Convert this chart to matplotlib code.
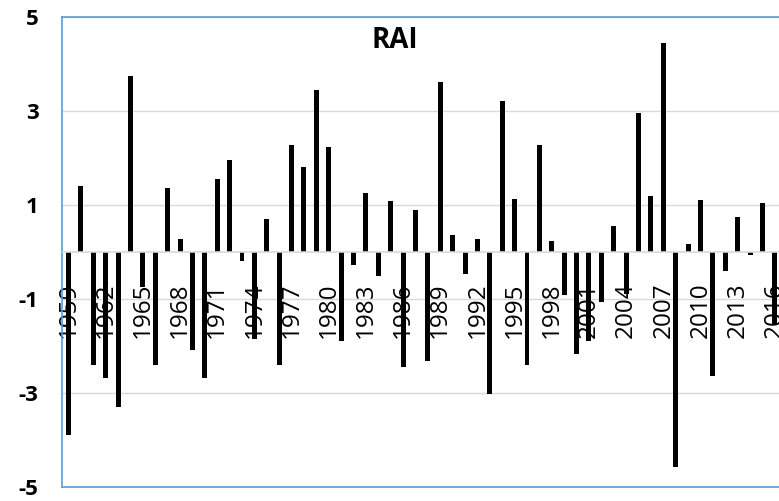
import matplotlib
matplotlib.use("Agg")
import matplotlib.pyplot as plt

years = list(range(1959, 2017))
rai = [-3.90, 1.40, -2.41, -2.68, -3.30, 3.74, -0.75, -2.41, 1.35, 0.26,
       -2.10, -2.68, 1.55, 1.95, -0.19, -1.86, 0.70, -2.41, 2.28, 1.80,
       3.45, 2.23, -1.91, -0.28, 1.24, -0.52, 1.08, -2.46, 0.89, -2.33,
       3.62, 0.36, -0.47, 0.28, -3.03, 3.21, 1.13, -2.41, 2.26, 0.23,
       -0.93, -2.17, -1.91, -1.06, 0.55, -0.90, 2.96, 1.19, 4.43, -4.57,
       0.17, 1.11, -2.64, -0.41, 0.73, -0.08, 1.03, -1.55]
label_years = years[::3]
y_ticks = [-5, -3, -1, 1, 3, 5]

plt.rcParams['font.family'] = ['Open Sans', 'DejaVu Sans']

fig = plt.figure(figsize=(7.79, 5.01), dpi=100)
ax = fig.add_axes([0.080, 0.0285, 0.9226, 0.9382])

ax.bar(years, rai, width=0.4, color='black', zorder=3)
ax.axhline(0, color='#d9d9d9', lw=1.2, zorder=4)

ax.set_xlim(years[0] - 0.5, years[-1] + 0.5)
ax.set_ylim(-5, 5)
ax.set_yticks(y_ticks)
ax.set_yticklabels([str(v) for v in y_ticks], fontsize=16, fontweight='bold')
ax.tick_params(axis='y', length=0, pad=17)

ax.set_xticks(label_years)
ax.set_xticklabels([str(y) for y in label_years], rotation=90, fontsize=17.5)
ax.tick_params(axis='x', length=0, pad=-147)

ax.grid(axis='y', color='#d9d9d9', lw=1, zorder=0)
for side in ['top', 'left', 'bottom']:
    ax.spines[side].set_color('#5b9bd5')
    ax.spines[side].set_linewidth(1.2)
ax.spines['right'].set_visible(False)

ax.text(0.463, 0.950, 'RAI', transform=ax.transAxes, ha='center', va='center',
        fontsize=20, fontweight='bold')

fig.savefig('out.png', dpi=100)
